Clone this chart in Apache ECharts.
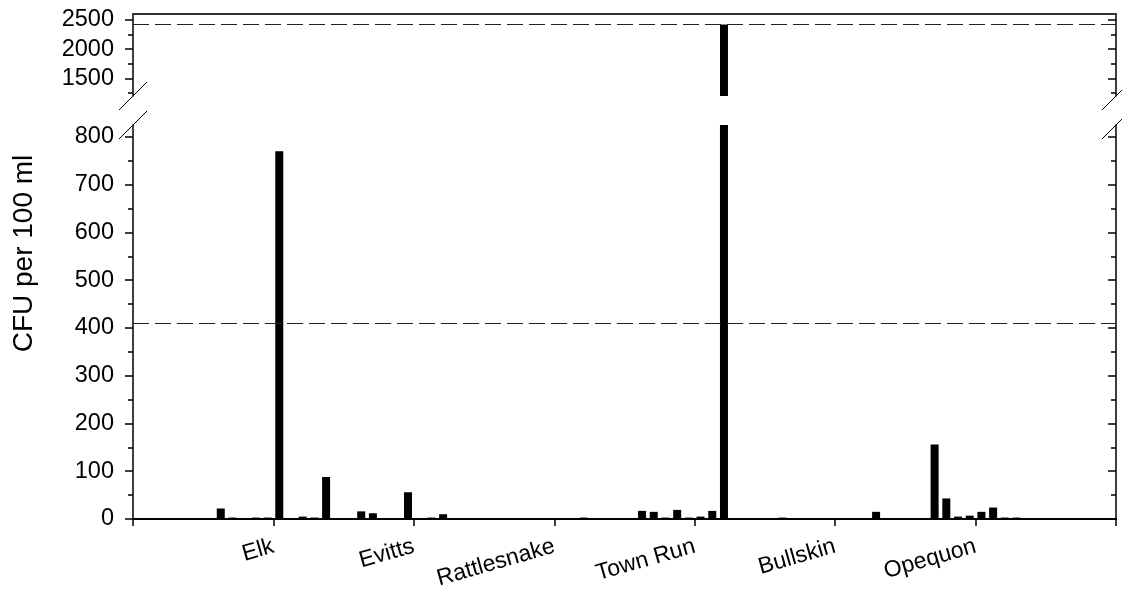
<!DOCTYPE html>
<html><head><meta charset="utf-8">
<script src="https://cdn.jsdelivr.net/npm/echarts@6/dist/echarts.min.js"></script>
<style>html,body{margin:0;padding:0;background:#fff}#c{width:1122px;height:596px}</style>
</head><body><div id="c"></div>
<script>
// ---- data ----
const sites = ['Elk', 'Evitts', 'Rattlesnake', 'Town Run', 'Bullskin', 'Opequon'];
const siteTicks = [12, 24, 36, 48, 60, 72];
const sampleSlots = [7, 8, 10, 11, 12, 14, 15, 16, 19, 20, 23, 25, 26, 38, 43, 44, 45, 46, 47, 48, 49, 50, 55, 63, 68, 69, 70, 71, 72, 73, 74, 75];
const cfuValues = [22, 3, 3, 3, 770, 5, 3, 88, 16, 12, 56, 3, 10, 3, 17, 15, 3, 19, 3, 5, 17, 2420, 3, 15, 156, 43, 5, 7, 15, 24, 3, 3];
const thresholdLow = 410;
const thresholdHigh = 2420;
const lowerMajorTicks = [0, 100, 200, 300, 400, 500, 600, 700, 800];
const lowerMinorTicks = [50, 150, 250, 350, 450, 550, 650, 750];
const upperMajorTicks = [1500, 2000, 2500];
const upperMinorTicks = [1250, 1750, 2250];
const xTicks = [0, 12, 24, 36, 48, 60, 72, 84];
const yTitle = 'CFU per 100 ml';

// ---- chart ----
const FONT = 'Liberation Sans, Arial, Helvetica, sans-serif';
const chart = echarts.init(document.getElementById('c'), null, {renderer: 'canvas'});
const barData = sampleSlots.map((s, i) => [s + 0.5, cfuValues[i]]);
const upper = {min: 1200, max: 2600};
const lower = {min: 0, max: 825};

function yAx(grid, range, pos, showLine, ticks, len, inside, labels) {
  return {
    type: 'value', gridIndex: grid, position: pos, min: range.min, max: range.max,
    splitLine: {show: false},
    axisLine: {show: showLine, lineStyle: {color: '#000', width: 1.5}},
    axisTick: {show: true, customValues: ticks, length: len, inside: inside, lineStyle: {color: '#000', width: 1.5}},
    axisLabel: labels ? {show: true, customValues: ticks, color: '#000', fontSize: 23.5, fontFamily: FONT, margin: 19,
                         formatter: (v) => String(v)} : {show: false}
  };
}

const markLineStyle = (v) => ({
  silent: true, symbol: ['none', 'none'], label: {show: false},
  lineStyle: {type: [16, 6], color: '#222', width: 1.2},
  data: [{yAxis: v}]
});

const option = {
  animation: false,
  backgroundColor: '#fff',
  grid: [
    {left: 133, right: 6, top: 14, height: 82},
    {left: 133, right: 6, top: 125, height: 394}
  ],
  xAxis: [
    {type: 'value', gridIndex: 0, position: 'top', min: 0, max: 84,
     splitLine: {show: false}, axisLine: {show: true, lineStyle: {color: '#333', width: 2}},
     axisTick: {show: false}, axisLabel: {show: false}},
    {type: 'value', gridIndex: 1, position: 'bottom', min: 0, max: 84, interval: 12,
     splitLine: {show: false}, axisLine: {show: true, onZero: false, lineStyle: {color: '#000', width: 2}},
     axisTick: {show: true, customValues: xTicks, length: 7, lineStyle: {color: '#000', width: 1.5}},
     axisLabel: {show: true, customValues: siteTicks, rotate: 16, margin: 27, color: '#000', fontSize: 23, fontFamily: FONT,
       formatter: (v) => { const i = siteTicks.indexOf(v); return i >= 0 ? sites[i] : ''; }}}
  ],
  yAxis: [
    yAx(0, upper, 'left', true, upperMajorTicks, 8, false, true),
    yAx(0, upper, 'left', false, upperMinorTicks, 5, false, false),
    yAx(0, upper, 'right', true, upperMajorTicks, 8, true, false),
    yAx(0, upper, 'right', false, upperMinorTicks, 5, true, false),
    yAx(1, lower, 'left', true, lowerMajorTicks, 8, false, true),
    yAx(1, lower, 'left', false, lowerMinorTicks, 5, false, false),
    yAx(1, lower, 'right', true, lowerMajorTicks, 8, true, false),
    yAx(1, lower, 'right', false, lowerMinorTicks, 5, true, false)
  ],
  series: [
    {type: 'bar', xAxisIndex: 0, yAxisIndex: 0, data: barData, barWidth: 8, clip: true,
     itemStyle: {color: '#000'}, markLine: markLineStyle(thresholdHigh)},
    {type: 'bar', xAxisIndex: 1, yAxisIndex: 4, data: barData, barWidth: 8, clip: true,
     itemStyle: {color: '#000'}, markLine: markLineStyle(thresholdLow)}
  ]
};
chart.setOption(option);

// axis-break slashes and y title, placed from the chart's own scales
const xl = chart.convertToPixel({xAxisIndex: 1}, 0);
const xr = chart.convertToPixel({xAxisIndex: 1}, 84);
const yUpBottom = chart.convertToPixel({yAxisIndex: 0}, upper.min);
const yLowTop = chart.convertToPixel({yAxisIndex: 4}, lower.max);
const yTop = chart.convertToPixel({yAxisIndex: 0}, upper.max);
const yBottom = chart.convertToPixel({yAxisIndex: 4}, lower.min);
const d = 14;
const slash = (x, y) => ({type: 'line', silent: true,
  shape: {x1: x - d, y1: y + d, x2: x + d, y2: y - d},
  style: {stroke: '#000', lineWidth: 1}});
chart.setOption({
  graphic: [
    slash(xl, yUpBottom), slash(xl, yLowTop), slash(xr, yUpBottom), slash(xr, yLowTop),
    {type: 'text', silent: true, x: 24, y: (yTop + yBottom) / 2 - 13, rotation: Math.PI / 2,
     style: {text: yTitle, fill: '#000', font: '28px ' + FONT, align: 'center', verticalAlign: 'middle'}}
  ]
});
</script>
</body></html>
